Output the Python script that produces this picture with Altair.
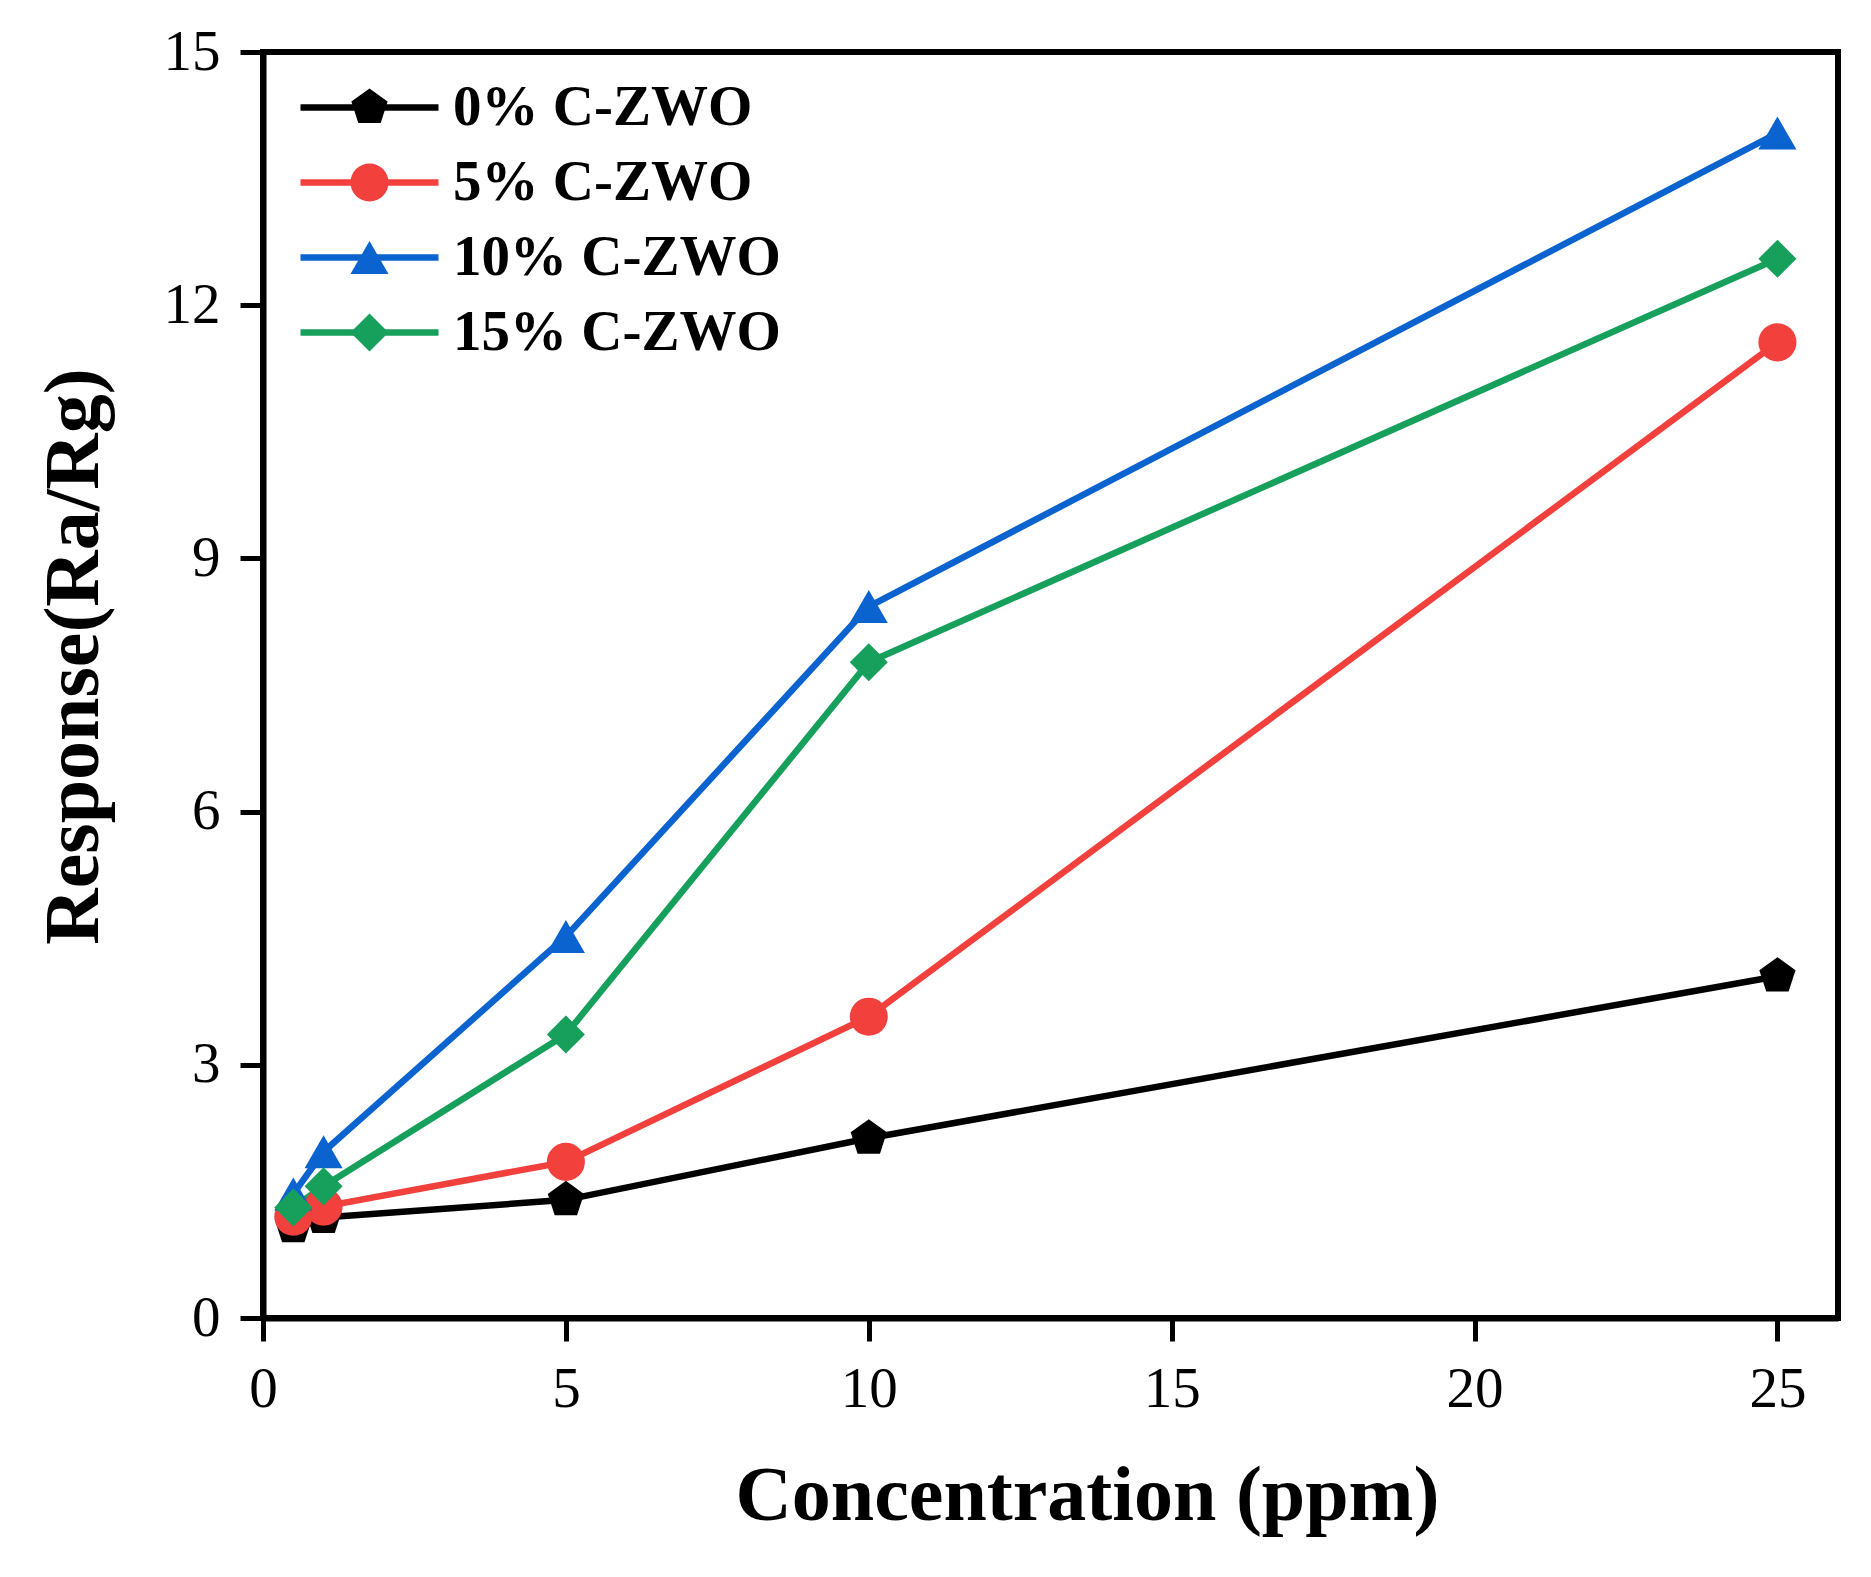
import altair as alt
import pandas as pd

conc = [0.5, 1, 5, 10, 25]
series_names = ["0% C-ZWO", "5% C-ZWO", "10% C-ZWO", "15% C-ZWO"]
series_codes = ["a", "b", "c", "d"]
resp_0 = [1.08, 1.19, 1.40, 2.13, 4.05]
resp_5 = [1.20, 1.32, 1.85, 3.57, 11.56]
resp_10 = [1.47, 1.97, 4.52, 8.43, 14.04]
resp_15 = [1.31, 1.56, 3.36, 7.77, 12.55]
colors = ["#000000", "#F2403D", "#0A63CF", "#17A05C"]
pentagon = "M0,-1L0.951,-0.309L0.588,0.809L-0.588,0.809L-0.951,-0.309Z"
shapes = [pentagon, "circle", "triangle-up", "diamond"]

rows = []
for name, code, vals in zip(series_names, series_codes, [resp_0, resp_5, resp_10, resp_15]):
    for c, v in zip(conc, vals):
        rows.append({"conc": c, "resp": v, "series": name, "code": code})
df = pd.DataFrame(rows)

FONT = "Liberation Serif"
MSIZE = 1450
LW = 6.5

x = alt.X("conc:Q", scale=alt.Scale(domain=[0, 26], nice=False, zero=False),
          axis=alt.Axis(values=[0, 5, 10, 15, 20, 25], title="Concentration (ppm)",
                        titleX=824, titleAlign="center",
                        labelPadding=20, titlePadding=40, labelFlush=False))
y = alt.Y("resp:Q", scale=alt.Scale(domain=[0, 15], nice=False),
          axis=alt.Axis(values=[0, 3, 6, 9, 12, 15], title="Response(Ra/Rg)",
                        titleY=604, titleAlign="center",
                        labelPadding=20, titlePadding=50, labelFlush=False))

lines = alt.Chart(df).mark_line(strokeWidth=LW).encode(
    x=x, y=y,
    stroke=alt.Stroke("series:N",
                      scale=alt.Scale(domain=series_names, range=colors),
                      legend=alt.Legend(title=None, orient="none", legendX=34, legendY=18,
                                        symbolType="stroke", symbolSize=19044,
                                        symbolStrokeWidth=LW, clipHeight=75, rowPadding=0,
                                        padding=0, labelOffset=11, labelFont=FONT,
                                        labelFontSize=57, labelFontWeight="bold",
                                        labelColor="black", labelLimit=600)),
    detail="series:N",
)

leg2 = dict(title=None, orient="none", legendX=87, legendY=18,
            symbolSize=MSIZE, symbolStrokeWidth=0, clipHeight=75,
            rowPadding=0, padding=0, labelExpr="''", labelOffset=0, symbolOpacity=1)

points = alt.Chart(df).mark_point(filled=True, size=MSIZE, opacity=1, strokeWidth=0).encode(
    x=x, y=y,
    fill=alt.Fill("code:N", scale=alt.Scale(domain=series_codes, range=colors),
                  legend=alt.Legend(**leg2)),
    shape=alt.Shape("code:N", scale=alt.Scale(domain=series_codes, range=shapes),
                    legend=alt.Legend(**leg2)),
)

chart = alt.layer(lines, points).properties(
    width=1575, height=1266,
    background="white",
    autosize=alt.AutoSizeParams(type="none"),
    padding={"left": 255, "top": 44, "right": 25, "bottom": 240},
).configure_view(
    stroke="black", strokeWidth=6
).configure_axis(
    domainColor="black", domainWidth=6, tickColor="black", tickWidth=5, tickSize=23,
    labelFont=FONT, labelFontSize=57, labelColor="black",
    titleFont=FONT, titleFontSize=78, titleFontWeight="bold", titleColor="black",
    grid=False,
)

chart.save("out.html", embed_options={"renderer": "svg", "actions": False})
